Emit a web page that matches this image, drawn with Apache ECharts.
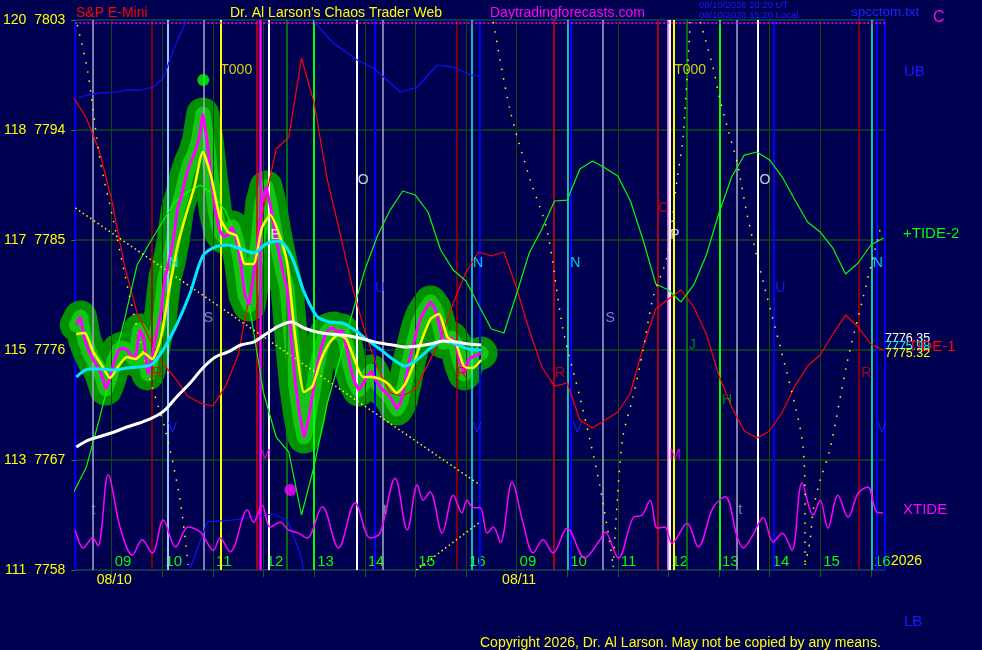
<!DOCTYPE html>
<html><head><meta charset="utf-8">
<script src="https://cdn.jsdelivr.net/npm/echarts@6/dist/echarts.min.js"></script>
<style>html,body{margin:0;padding:0;background:#000050;}#c{width:982px;height:650px;}</style>
</head><body><div id="c"></div>
<script>
// ---------- axis / tick data ----------
const X_MIN = 8.28, X_MAX = 24.28;            // chart hours (day 2 = hour + 8)
const yTickValues = [7758, 7767, 7776, 7785, 7794, 7803];
const yTickPrefix = ['111', '113', '115', '117', '118', '120'];
const hourTicks  = [9,10,11,12,13,14,15,16,17,18,19,20,21,22,23,24];
const hourLabels = ['09','10','11','12','13','14','15','16','09','10','11','12','13','14','15','16'];
const dayTicks  = [9.05, 17.05];
const dayLabels = ['08/10', '08/11'];

// ---------- price (5-minute) ----------
const priceStart = 8.30, priceStep = 5 / 60;
const price = [
 7778.05,7778.70,7776.82,7775.92,7775.18,7774.69,7773.95,7772.81,7773.71,7775.10,
 7776.00,7776.16,7776.00,7775.59,7775.18,7777.64,7776.98,7774.04,7775.51,7777.39,
 7778.86,7781.89,7783.20,7785.00,7787.54,7788.68,7790.24,7791.30,7792.04,7793.18,
 7795.31,7793.18,7790.07,7787.29,7785.74,7785.25,7785.41,7786.06,7785.00,7783.12,
 7780.50,7779.68,7781.97,7784.59,7788.03,7789.34,7787.86,7785.82,7784.02,7782.38,
 7780.99,7776.82,7773.14,7770.68,7768.88,7770.27,7772.24,7774.53,7776.08,7777.23,
 7777.72,7777.80,7777.39,7777.64,7776.41,7774.61,7773.38,7772.73,7773.22,7773.87,
 7774.28,7773.54,7772.97,7772.64,7772.32,7771.83,7771.17,7771.83,7773.38,7775.18,
 7776.57,7777.96,7778.86,7779.44,7779.93,7779.44,7778.21,7776.65,7776.90,7776.98,
 7776.41,7775.02,7774.04,7775.26,7775.43,7775.59,7775.75];
// yellow fast average (10-minute readings)
const fastStart = 8.30, fastStep = 10 / 60;
const fastAvg = [
 7777.31,7777.39,7775.84,7774.77,7773.71,7774.69,7775.43,7775.26,7775.75,7775.26,
 7776.90,7780.91,7784.51,7787.05,7789.34,7792.20,7790.15,7786.88,7785.65,7785.33,
 7783.04,7783.04,7785.98,7787.05,7785.57,7783.12,7776.82,7772.56,7773.05,7775.18,
 7776.57,7777.23,7776.90,7775.18,7773.79,7773.79,7773.63,7773.22,7772.48,7773.22,
 7774.85,7776.90,7778.54,7778.95,7777.06,7776.57,7774.61,7774.53,7775.18];
// cyan and white averages (15-minute readings)
const avgStart = 8.30, avgStep = 0.25;
const midAvg = [
 7773.79,7774.45,7774.45,7774.36,7774.53,7774.61,7774.85,7776.25,7778.21,7780.66,
 7783.69,7784.43,7784.59,7784.26,7783.94,7784.67,7784.92,7783.69,7780.75,7778.78,
 7778.29,7778.21,7777.64,7776.82,7776.08,7775.26,7774.69,7775.26,7776.16,7776.74,
 7776.49,7776.08,7776.00];
const slowAvg = [
 7768.06,7768.64,7768.96,7769.29,7769.70,7770.03,7770.44,7771.09,7772.24,7773.30,
 7774.53,7775.43,7775.84,7776.41,7776.65,7777.31,7777.96,7778.29,7777.80,7777.47,
 7777.31,7777.23,7777.06,7776.82,7776.57,7776.41,7776.25,7776.33,7776.49,7776.74,
 7776.65,7776.49,7776.41];
// tide forecasts (15-minute readings, both days)
const tideStart = 8.25, tideStep = 0.25;
const tide1 = [
 7796.62,7794.98,7792.36,7788.27,7782.95,7779.03,7776.90,7774.94,7773.71,7772.24,
 7771.66,7771.42,7773.05,7775.59,7781.07,7787.62,7792.45,7793.43,7799.89,7796.21,
 7790.15,7785.74,7781.24,7777.55,7774.53,7772.48,7772.24,7772.81,7774.85,7776.90,
 7779.85,7782.38,7784.02,7783.69,7784.02,7781.07,7777.64,7774.61,7773.05,7773.30,
 7770.27,7769.62,7770.27,7770.93,7772.48,7776.25,7779.35,7780.17,7780.91,7779.52,
 7777.31,7773.87,7771.34,7769.37,7768.80,7769.37,7770.93,7773.05,7774.69,7775.59,
 7777.31,7778.86,7777.88,7776.49,7776.00];
const tide2 = [
 7764.38,7766.43,7770.27,7774.36,7778.45,7782.95,7784.75,7786.47,7788.11,7788.93,
 7789.50,7788.76,7787.37,7784.84,7778.86,7772.48,7768.88,7767.65,7762.50,7766.51,
 7771.50,7775.18,7778.95,7782.54,7785.33,7787.45,7789.01,7788.68,7787.29,7784.18,
 7782.54,7781.64,7779.68,7777.72,7777.39,7780.58,7783.94,7785.90,7788.19,7788.27,
 7790.81,7791.46,7790.89,7790.24,7788.19,7785.00,7781.40,7780.91,7779.93,7781.32,
 7783.77,7787.21,7790.15,7791.95,7792.20,7791.55,7790.15,7788.27,7786.47,7785.65,
 7784.34,7782.22,7783.12,7784.59,7785.16];
// XTIDE (own 0-100 scale)
const xtide = [
 [8.28,7.3],[8.44,4.0],[8.62,5.8],[8.73,4.4],[8.93,17.3],[9.17,7.6],[9.41,2.7],[9.60,5.5],[9.80,3.1],[10.02,9.1],
 [10.26,4.2],[10.51,7.8],[10.75,6.9],[11.01,3.6],[11.14,5.8],[11.34,3.3],[11.68,10.9],[11.80,8.7],[11.97,11.8],[12.13,7.8],
 [12.33,8.7],[12.49,7.3],[12.69,6.7],[12.86,5.8],[13.16,11.5],[13.48,4.0],[13.81,12.2],[14.11,5.8],[14.30,6.7],[14.60,16.7],
 [14.84,7.3],[15.04,15.5],[15.15,12.7],[15.29,14.2],[15.53,6.7],[15.75,13.6],[15.92,10.4],[16.02,12.7],[16.14,11.3],[16.28,11.3],
 [16.42,6.7],[16.54,7.8],[16.68,5.0],[16.91,16.0],[17.13,8.5],[17.33,3.1],[17.52,5.5],[17.72,3.1],[18.00,7.6],[18.35,2.2],
 [18.65,5.5],[18.75,6.9],[19.01,2.2],[19.30,9.5],[19.48,10.0],[19.64,12.7],[19.78,7.6],[19.93,7.8],[20.07,4.9],[20.37,8.5],
 [20.59,4.2],[20.88,11.3],[21.12,13.3],[21.36,6.0],[21.48,4.0],[21.67,6.4],[21.87,9.5],[22.07,5.1],[22.25,6.7],[22.44,3.6],
 [22.64,15.8],[22.86,10.0],[23.00,12.7],[23.15,7.6],[23.35,13.6],[23.55,9.6],[23.75,14.0],[23.94,15.1],[24.12,10.5],[24.24,10.4]];
// UB band line (blue)
const ubTop = [
 [8.34,7796.62],[8.52,7796.86],[8.77,7797.03],[9.11,7797.11],[9.31,7797.27],[9.56,7797.27],[9.82,7797.52],
 [10.02,7798.25],[10.22,7800.55],[10.45,7802.75],[10.52,7804.5],[11.8,'-'],[12.95,7804.5],[13.02,7802.75],
 [13.38,7801.12],[13.85,7799.73],[14.17,7799.07],[14.44,7798.09],[14.70,7797.11],[15.04,7797.52],
 [15.43,7799.32],[15.75,7799.15],[16.08,7798.50],[16.28,7798.42]];
const ubBottom = [[10.55,7758.16],[10.89,7761.93],[11.40,7762.09],[12.19,7762.58],[12.47,7762.09],[12.72,7759.39],[12.82,7757.5]];
// yellow dotted guide lines
const diag1 = [[8.28,7787.62],[16.28,7764.95]];
const diag2 = [[15.02,7758.0],[16.28,7761.93]];
const dotCurves = [
 [[8.32,7802.59],[8.52,7798.91],[8.77,7791.55],[9.03,7786.64],[9.37,7780.09],[9.76,7773.54],[10.06,7769.45],[10.35,7763.73],[10.51,7758.41]],
 [[16.54,7802.84],[16.87,7795.64],[17.27,7789.91],[17.60,7785.82],[17.92,7777.64],[18.25,7772.15],[18.45,7768.64],[18.65,7764.79],[18.85,7760.04],[18.91,7758.24]],
 [[18.91,7758.24],[18.99,7763.73],[19.10,7768.88],[19.30,7772.15],[19.50,7776.00],[19.70,7780.34],[19.97,7783.61],[20.17,7789.91],[20.29,7793.43],[20.43,7802.84]],
 [[20.63,7802.84],[20.88,7799.15],[21.02,7796.45],[21.18,7794.00],[21.36,7791.30],[21.55,7787.21],[21.75,7783.61],[21.95,7780.34],[22.21,7776.24],[22.54,7770.84],[22.66,7768.06],[22.70,7764.30],[22.70,7758.41]],
 [[22.70,7758.41],[22.80,7760.45],[22.86,7762.91],[23.00,7765.36],[23.19,7767.82],[23.53,7774.94],[23.85,7780.34],[24.18,7785.82]]];
// vertical time lines (chart hours)
const grayLines = [8.62, 10.81, 14.36, 18.71, 21.36];
const redLines = [11.86, 17.74, 19.78];
const darkRedLines = [9.80, 15.81, 23.77];
const cyanLines = [16.12, 18.02, 24.02];
const lightBlueLines = [10.10];
const blueLines = [14.19, 16.28, 18.08, 22.09, 24.12];
const yellowLines = [11.16, 20.11];
const magentaLines = [11.93];
const pinkLines = [19.99];
const whiteLines = [12.11, 13.85, 20.03, 21.77];
const greenLines = [12.45, 20.37];
const brightGreenLines = [13.00, 21.02];
// point markers
const pinkDot = [[12.53, 7764.54]];
const greenDot = [[10.81, 7798.09]];
// letter annotations [text, hour, price]
const yellowLetters = [['T000',11.46,7798.91],['T000',20.43,7798.91]];
const whiteLetters = [['O',13.97,7789.91],['O',21.91,7789.91],['E',12.23,7785.41],['P',20.13,7785.41]];
const cyanLetters = [['N',10.22,7783.12],['N',16.24,7783.12],['N',18.16,7783.12],['N',24.14,7783.12]];
const grayLetters = [['S',10.91,7778.62],['S',18.85,7778.62],['t',8.64,7762.91],['t',21.42,7762.91],['t',14.40,7762.91]];
const redLetters = [['R',9.90,7774.12],['R',15.92,7774.12],['R',17.86,7774.12],['R',23.91,7774.12],['C',19.90,7787.62]];
const blueLetters = [['V',10.20,7769.62],['V',16.22,7769.62],['V',18.20,7769.62],['V',24.22,7769.62],['U',14.30,7781.07],['U',22.21,7781.07]];
const magentaLetters = [['M',12.03,7767.41],['M',20.13,7767.41]];
const greenLetters = [['J',20.47,7776.41],['H',21.16,7771.91]];

// ---------- build ----------
const FONT = '"Liberation Sans", Arial, sans-serif';
const seq = (start, step, arr) => arr.map((v, i) => [start + i * step, v]);
const priceData = seq(priceStart, priceStep, price);

const vGroups = [
  [hourTicks, '#0e4a10', 1],
  [grayLines, '#a8a8cc', 1.5],
  [redLines, '#e00000', 1.5],
  [darkRedLines, '#a00000', 1.5],
  [cyanLines, '#20f0e0', 1.5],
  [lightBlueLines, '#90c8ff', 2],
  [blueLines, '#0000ff', 2],
  [yellowLines, '#ffff00', 2],
  [magentaLines, '#ff00ff', 2.5],
  [pinkLines, '#ff90ff', 2.5],
  [whiteLines, '#ffffff', 2],
  [greenLines, '#009000', 1.5],
  [brightGreenLines, '#00ff00', 2]
];
const vData = [];
vGroups.forEach(([vals, color, w]) => vals.forEach(v => vData.push({xAxis: v, lineStyle: {color, width: w, type: 'solid'}})));
vData.push({yAxis: 7802.8, lineStyle: {color: '#ff00ff', width: 1.5, type: [2, 2]}});

function lineSeries(data, color, width, z, extra) {
  return Object.assign({
    type: 'line', data, symbol: 'none', z, animation: false, silent: true,
    lineStyle: {color, width}, emphasis: {disabled: true}
  }, extra || {});
}
function letterSeries(list, color) {
  return {
    type: 'scatter', z: 9, silent: true, animation: false, symbolSize: 1,
    itemStyle: {color: 'rgba(0,0,0,0)'},
    data: list.map(a => ({name: a[0], value: [a[1], a[2]]})),
    label: {show: true, position: 'inside', formatter: p => p.name, color, fontSize: 14, fontFamily: FONT}
  };
}

const series = [
  lineSeries(priceData, '#009000', 33, 1, {
    lineStyle: {color: '#009000', width: 33, cap: 'round', join: 'round'},
    markLine: {silent: true, symbol: ['none', 'none'], label: {show: false}, z: 2, animation: false, emphasis: {disabled: true}, data: vData}
  }),
  lineSeries(priceData, 'rgba(30,235,30,0.6)', 15, 1, {lineStyle: {color: 'rgba(30,235,30,0.6)', width: 15, cap: 'round', join: 'round'}}),
  lineSeries(seq(tideStart, tideStep, tide1), '#ff0000', 1.2, 3),
  lineSeries(seq(tideStart, tideStep, tide2), '#00ff00', 1.2, 3),
  lineSeries(ubTop, '#1010ff', 1.2, 3),
  lineSeries(ubBottom, '#1010ff', 1.2, 3),
  lineSeries(xtide, '#ff00ff', 1.5, 3, {yAxisIndex: 1, smooth: 0.35}),
  lineSeries(diag1, '#ffff00', 1.5, 3, {lineStyle: {color: '#ffff00', width: 1.5, type: [1.5, 3]}}),
  lineSeries(diag2, '#ffff00', 1.5, 3, {lineStyle: {color: '#ffff00', width: 1.5, type: [1.5, 3]}})
];
dotCurves.forEach(c => series.push(lineSeries(c, '#ffff00', 1.5, 3, {smooth: 0.3, lineStyle: {color: '#ffff00', width: 1.5, type: [1.5, 8]}})));
series.push(
  lineSeries(priceData, '#ff00ff', 3, 5),
  lineSeries(seq(fastStart, fastStep, fastAvg), '#ffff00', 2.5, 6, {smooth: 0.2}),
  lineSeries(seq(avgStart, avgStep, midAvg), '#00e8ff', 3, 7, {smooth: 0.3}),
  lineSeries(seq(avgStart, avgStep, slowAvg), '#ffffff', 3, 8, {smooth: 0.3}),
  {type: 'scatter', data: pinkDot, symbolSize: 12, itemStyle: {color: '#ff00ff'}, z: 8, silent: true, animation: false},
  {type: 'scatter', data: greenDot, symbolSize: 12, itemStyle: {color: '#00ff00'}, z: 8, silent: true, animation: false},
  letterSeries(yellowLetters, '#ffff00'),
  letterSeries(whiteLetters, '#ffffff'),
  letterSeries(cyanLetters, '#00ffff'),
  letterSeries(grayLetters, '#a0a0c0'),
  letterSeries(redLetters, '#e00000'),
  letterSeries(blueLetters, '#2020ff'),
  letterSeries(magentaLetters, '#ff00ff'),
  letterSeries(greenLetters, '#00a000')
);

function txt(text, x, y, fill, size, extra) {
  return Object.assign({type: 'text', x, y, silent: true, style: {text, fill, fontSize: size, fontFamily: FONT, verticalAlign: 'middle', textVerticalAlign: 'middle'}}, extra || {});
}

const option = {
  backgroundColor: '#000050',
  animation: false,
  grid: {left: 75, right: 97, top: 20, bottom: 80, show: true, borderColor: '#0000ff', borderWidth: 2, backgroundColor: 'transparent'},
  xAxis: [
    {type: 'value', min: X_MIN, max: X_MAX, position: 'bottom',
     axisLine: {show: false}, splitLine: {show: false},
     axisTick: {show: true, customValues: hourTicks, length: 7, lineStyle: {color: '#1a5a1a'}},
     axisLabel: {show: true, customValues: hourTicks, inside: true, margin: 1, align: 'left', padding: [0, 0, 0, 3],
       color: '#00ff00', fontSize: 15, fontFamily: FONT,
       formatter: v => hourLabels[hourTicks.indexOf(v)] || ''}},
    {type: 'value', min: X_MIN, max: X_MAX, position: 'bottom',
     axisLine: {show: false}, splitLine: {show: false}, axisTick: {show: false},
     axisLabel: {show: true, customValues: dayTicks, margin: 3, color: '#ffff00', fontSize: 14, fontFamily: FONT,
       formatter: v => dayLabels[dayTicks.indexOf(v)] || ''}}
  ],
  yAxis: [
    {type: 'value', min: 7758, max: 7803, interval: 9,
     axisLine: {show: false},
     axisTick: {show: true, length: 4, lineStyle: {color: '#00a000'}},
     splitLine: {show: true, lineStyle: {color: '#0e4a10', width: 1.5}},
     axisLabel: {color: '#ffff00', fontSize: 14, fontFamily: FONT, margin: 10, padding: [0, 0, 8, 0],
       formatter: v => { const i = yTickValues.indexOf(v); return (i >= 0 ? yTickPrefix[i] : '') + '  ' + v; }}},
    {type: 'value', min: 0, max: 100, show: false}
  ],
  series,
  graphic: [
    txt('S&P E-Mini', 76, 13, '#ff0000', 14),
    txt("Dr. Al Larson's Chaos Trader Web", 230, 13, '#ffff00', 14),
    txt('Daytradingforecasts.com', 490, 13, '#ff00ff', 14),
    txt('08/10/2026 20:20 UT', 699, 5, '#1a1aff', 9.5),
    txt('08/10/2026 15:20 Local', 699, 15, '#1a1aff', 9.5),
    txt('spcctom.txt', 851, 12, '#2020ff', 13.5),
    txt('C', 933, 18, '#ff00ff', 16),
    txt('UB', 904, 72, '#1a1aff', 15),
    txt('+TIDE-2', 903, 234, '#00ff00', 15),
    txt('7776.35', 885, 339, '#ffffff', 12.5),
    txt('7775.98', 885, 347, '#00ffff', 12.5),
    txt('TIDE-1', 908, 347, '#ff0000', 15),
    txt('7775.32', 885, 354, '#ffff00', 12.5),
    txt('XTIDE', 903, 510, '#ff00ff', 15),
    txt('2026', 891, 561, '#ffff00', 14),
    txt('LB', 904, 622, '#1a1aff', 15),
    txt('Copyright 2026, Dr. Al Larson. May not be copied by any means.', 480, 643, '#ffff00', 14)
  ]
};

const chart = echarts.init(document.getElementById('c'), null, {renderer: 'canvas'});
chart.setOption(option);
</script>
</body></html>
